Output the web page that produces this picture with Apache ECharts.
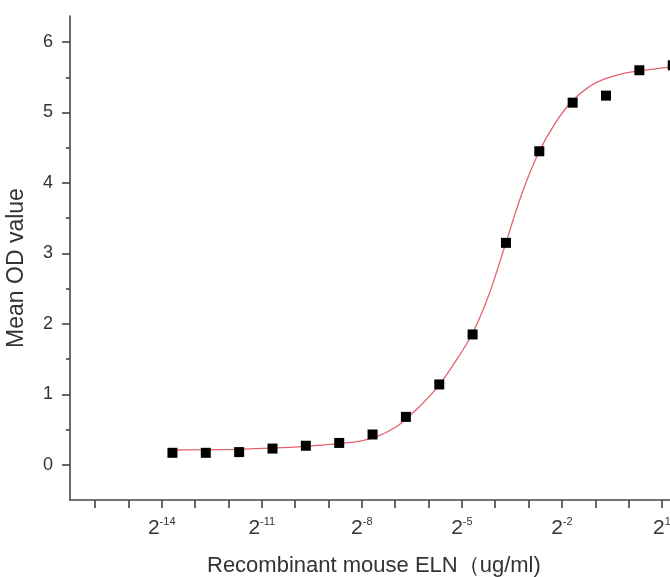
<!DOCTYPE html>
<html>
<head>
<meta charset="utf-8">
<script src="https://cdn.jsdelivr.net/npm/echarts@6/dist/echarts.min.js"></script>
<style>
  html, body { margin: 0; padding: 0; background: #fff; }
  #main { width: 670px; height: 577px; }
</style>
</head>
<body>
<div id="main"></div>
<script>
// concentration of recombinant mouse ELN (ug/ml), 2-fold dilutions from 2.5
var conc = [0.0000762939453125, 0.000152587890625, 0.00030517578125, 0.0006103515625,
  0.001220703125, 0.00244140625, 0.0048828125, 0.009765625, 0.01953125, 0.0390625,
  0.078125, 0.15625, 0.3125, 0.625, 1.25, 2.5];
// mean OD
var meanOD = [0.17, 0.17, 0.18, 0.23, 0.27, 0.31, 0.43, 0.68, 1.14, 1.85,
  3.15, 4.45, 5.14, 5.24, 5.60, 5.67];

// fitted curve: log2(conc) and OD
var curveExp = [-13.68, -12.7, -11.7, -10.7, -9.7, -8.7, -8.0, -7.5, -7.0, -6.7, -6.2, -5.7,
  -5.2, -4.7, -4.2, -3.7, -3.2, -2.7, -2.2, -1.7, -1.2, -0.7, -0.2, 0.3, 0.8, 1.32];
var curveOD = [0.21, 0.215, 0.22, 0.235, 0.26, 0.30, 0.34, 0.41, 0.53, 0.64, 0.86, 1.12,
  1.46, 1.85, 2.40, 3.12, 3.85, 4.43, 4.85, 5.16, 5.36, 5.48, 5.55, 5.59, 5.62, 5.65];

// axis ticks (x in powers of 2)
var xTickExp = [-16, -15, -14, -13, -12, -11, -10, -9, -8, -7, -6, -5, -4, -3, -2, -1, 0, 1, 2];
var xLabelExp = [-14, -11, -8, -5, -2, 1];
var yTicks = [0, 1, 2, 3, 4, 5, 6];
var yMinorTicks = [0.5, 1.5, 2.5, 3.5, 4.5, 5.5];

var pts = conc.map(function (c, i) { return [Math.log2(c), meanOD[i]]; });
var curve = curveExp.map(function (e, i) { return [e, curveOD[i]]; });

var axisColor = '#444';
var font = '"Liberation Sans", Arial, sans-serif';

var myChart = echarts.init(document.getElementById('main'));
var option = {
  backgroundColor: '#fff',
  animation: false,
  textStyle: { fontFamily: font },
  grid: { left: 70, right: -42, top: 16, bottom: 77, outerBoundsMode: 'none', containLabel: false },
  xAxis: {
    type: 'value',
    min: -16.75,
    max: 2.5,
    axisLine: { onZero: false, lineStyle: { color: axisColor, width: 1.6 } },
    axisTick: { customValues: xTickExp, length: 8, lineStyle: { color: axisColor, width: 1.6 } },
    splitLine: { show: false },
    axisLabel: {
      customValues: xLabelExp,
      margin: 16,
      color: '#333',
      formatter: function (v) { return '{b|2}{s|' + v + '}'; },
      rich: {
        b: { fontSize: 21, fontFamily: font, color: '#333', lineHeight: 24 },
        s: { fontSize: 11, fontFamily: font, color: '#333', verticalAlign: 'top', lineHeight: 24, padding: [0, 0, 9, 0] }
      }
    }
  },
  yAxis: [{
    type: 'value',
    min: -0.5,
    max: 6.37,
    name: 'Mean OD value',
    nameLocation: 'middle',
    nameGap: 42,
    nameTextStyle: { fontSize: 23, color: '#333', fontFamily: font, padding: [0, 20, 0, 0] },
    axisLine: { onZero: false, lineStyle: { color: axisColor, width: 1.6 } },
    axisTick: { customValues: yTicks, length: 8, lineStyle: { color: axisColor, width: 1.6 } },
    splitLine: { show: false },
    axisLabel: { customValues: yTicks, fontSize: 18, color: '#333', margin: 17 }
  }, {
    type: 'value',
    min: -0.5,
    max: 6.37,
    position: 'left',
    axisLine: { show: false, onZero: false },
    axisTick: { customValues: yMinorTicks, length: 4, lineStyle: { color: axisColor, width: 1.6 } },
    splitLine: { show: false },
    axisLabel: { show: false }
  }],
  title: {
    text: 'Recombinant mouse ELN（ug/ml)',
    left: 202,
    top: 550,
    textStyle: { fontSize: 22, fontWeight: 'normal', color: '#333', fontFamily: font }
  },
  series: [{
    type: 'line',
    data: curve,
    smooth: 0.3,
    showSymbol: false,
    lineStyle: { color: '#e3646e', width: 1.3 },
    z: 2
  }, {
    type: 'scatter',
    data: pts,
    symbol: 'rect',
    symbolSize: 10,
    itemStyle: { color: '#000', opacity: 1 },
    z: 3
  }]
};
myChart.setOption(option);
</script>
</body>
</html>
